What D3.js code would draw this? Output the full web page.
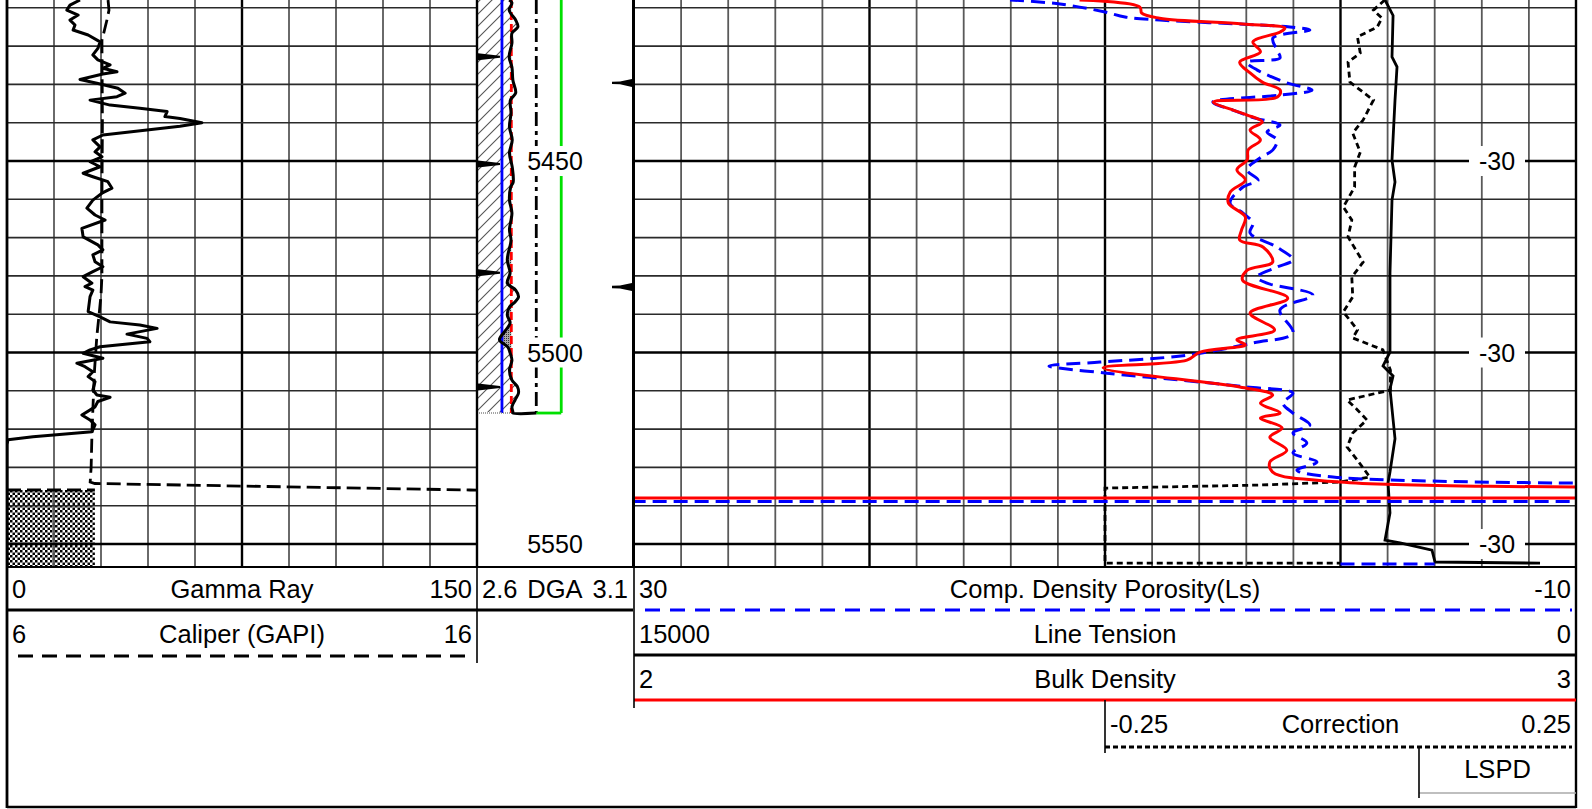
<!DOCTYPE html>
<html>
<head>
<meta charset="utf-8">
<script src="https://cdn.jsdelivr.net/npm/d3@7"></script>
<style>
  body { margin: 0; background: #fff; }
  svg { display: block; }
  text { font-family: "Liberation Sans", Arial, sans-serif; fill: #000; }
</style>
</head>
<body>
<svg id="log"></svg>
<script>
// ---- curve data: [depth (ft), value] ----
const gammaRay = [
  [5407.96,23.3],[5409.3,20.1],[5410.6,19.1],[5411.9,22.7],[5413.2,20.1],[5414.5,21.7],[5415.8,21.1],
  [5417.1,25.9],[5418.9,29.7],[5420.6,29.0],[5422.3,27.4],[5423.6,29.0],[5424.9,32.9],[5425.8,30.6],
  [5426.7,35.1],[5427.3,30.6],[5428.7,23.3],[5429.7,28.7],[5431.0,35.4],[5432.3,37.7],[5433.2,35.1],
  [5434.1,26.5],[5435.4,32.9],[5436.2,42.4],[5437.1,51.1],[5438.4,50.4],[5438.9,55.2],[5440.0,62.2],
  [5440.9,55.2],[5443.2,30.6],[5444.5,27.4],[5446.3,29.7],[5447.6,28.1],[5448.9,30.3],[5450.2,26.5],
  [5451.5,29.7],[5453.2,24.3],[5454.1,27.4],[5455.4,32.2],[5457.1,33.5],[5458.4,30.3],[5460.2,27.4],
  [5462.3,25.5],[5464.1,28.1],[5465.4,31.3],[5467.6,23.9],[5469.8,24.3],[5471.9,29.0],[5473.2,30.6],
  [5474.5,27.4],[5476.3,28.1],[5477.6,30.6],[5478.9,27.4],[5480.2,24.3],[5481.9,27.1],[5482.8,24.9],
  [5483.7,27.4],[5485.4,26.5],[5489.3,25.9],[5490.7,29.7],[5492.0,32.9],[5492.8,42.4],[5493.7,47.9],
  [5495.2,38.3],[5496.3,44.7],[5497.2,45.6],[5498.5,29.7],[5499.3,26.5],[5500.2,24.3],[5501.5,30.6],
  [5502.8,22.3],[5503.7,24.9],[5505.0,27.4],[5506.3,25.9],[5507.6,28.1],[5509.8,27.4],[5511.1,28.7],
  [5511.7,32.9],[5512.8,29.0],[5514.2,28.1],[5516.3,23.9],[5517.6,26.5],[5518.9,28.1],[5520.7,27.1],
  [5522.0,8.3],[5522.8,0.3],[5524.0,0],[5556,0]
];
const caliper = [
  [5407.96,8.15],[5410.6,8.17],[5413.0,8.13],[5418.5,8.02],[5440,8.03],[5460,8.02],[5480,8.02],
  [5485,8.00],[5490,7.96],[5496,7.91],[5505,7.86],[5520,7.81],[5530,7.79],[5533.8,7.77],
  [5534.2,7.87],[5535.9,15.85],[5536.0,16.3]
];
const caliperWrap = [[5535.9,6.0],[5535.9,7.87]];
const bitFill = [[5535.9,7.87],[5556,7.87]];

const dga = [
  [5407.96,2.703],[5408.7,2.712],[5410.6,2.703],[5413.2,2.724],[5415.0,2.731],[5416.6,2.712],
  [5419.2,2.712],[5422.8,2.703],[5425.5,2.712],[5428.9,2.715],[5432.2,2.724],[5434.1,2.707],
  [5437.5,2.709],[5441.1,2.704],[5444.5,2.713],[5447.9,2.704],[5451.6,2.713],[5455.5,2.716],
  [5456.8,2.708],[5460.2,2.704],[5463.6,2.712],[5468.0,2.704],[5470.6,2.709],[5475.8,2.697],
  [5479.2,2.706],[5481.9,2.697],[5483.7,2.724],[5485.5,2.733],[5486.8,2.722],[5488.1,2.704],
  [5490.2,2.697],[5492.3,2.706],[5494.6,2.688],[5496.7,2.672],[5498.6,2.699],[5500.1,2.706],
  [5502.0,2.712],[5504.6,2.704],[5507.2,2.712],[5509.0,2.730],[5510.6,2.733],[5512.4,2.722],
  [5514.2,2.712],[5515.5,2.715]
];
const dgaEndDepth = 5515.8;
const dgaRefValues = [2.68, 2.71, 2.79, 2.87];   // blue, red dashed, dash-dot, green

const bulkDensity = [
  [5407.96,2.473],[5409.8,2.537],[5411.4,2.539],[5412.7,2.558],[5414.2,2.646],[5415.3,2.691],
  [5416.3,2.686],[5418.9,2.657],[5421.5,2.665],[5424.2,2.643],[5427.0,2.654],[5429.4,2.667],
  [5431.5,2.686],[5433.3,2.683],[5434.6,2.615],[5436.7,2.636],[5438.0,2.651],[5439.8,2.667],
  [5441.9,2.654],[5444.5,2.665],[5447.1,2.652],[5449.7,2.651],[5452.3,2.640],[5455.0,2.649],
  [5458.1,2.633],[5461.0,2.631],[5464.6,2.649],[5468.0,2.645],[5470.6,2.643],[5472.5,2.668],
  [5476.4,2.678],[5478.5,2.651],[5481.1,2.646],[5485.8,2.694],[5489.7,2.654],[5494.1,2.680],
  [5496.7,2.640],[5498.0,2.649],[5499.9,2.601],[5502.0,2.587],[5504.0,2.498],[5509.0,2.643],
  [5511.1,2.678],[5513.2,2.665],[5515.8,2.686],[5517.1,2.665],[5519.7,2.688],[5522.1,2.675],
  [5525.5,2.693],[5528.6,2.675],[5531.2,2.678],[5533.8,2.749],[5535.1,3.02]
];
const bulkDensityWrap = [[5538.0,1.99],[5538.0,3.01]];

const densityPorosity = [
  [5407.96,14.03],[5409.0,11.91],[5411.1,10.00],[5412.4,9.15],[5413.2,7.67],[5414.5,3.42],
  [5415.0,2.15],[5415.8,1.30],[5417.9,2.87],[5421.0,2.70],[5423.1,2.57],[5424.2,3.97],
  [5426.2,3.55],[5429.6,2.27],[5431.5,1.21],[5432.8,2.57],[5434.6,5.42],[5436.7,4.57],
  [5438.8,3.63],[5440.6,2.57],[5442.4,3.12],[5444.5,2.70],[5447.1,2.87],[5449.2,3.42],
  [5452.3,3.97],[5455.0,3.50],[5456.8,4.14],[5461.0,4.69],[5463.6,4.14],[5466.2,3.72],
  [5468.8,3.84],[5472.5,2.70],[5475.8,2.02],[5477.7,2.70],[5480.3,3.55],[5481.9,3.12],
  [5485.0,1.17],[5488.9,2.57],[5494.9,2.02],[5497.5,3.72],[5500.7,6.52],[5502.5,10.21],
  [5503.5,12.38],[5505.4,9.92],[5507.2,6.82],[5509.0,3.97],[5510.6,2.02],[5513.2,2.44],
  [5515.8,2.02],[5518.9,1.30],[5521.0,2.02],[5523.6,1.43],[5526.2,2.02],[5528.6,1.00],
  [5530.7,1.85],[5532.5,0.32],[5534.1,-10.1]
];
const densityPorosityWrap = [[5538.9,30.1],[5538.9,-10.1]];
const densityPorosityTail = [[5555.2,0.0],[5555.2,-4.0]];

const lineTension = [
  [5407.96,3041],[5412.0,2913],[5422.8,2930],[5425.4,2850],[5434.1,2882],[5449.7,2930],
  [5455.5,2882],[5460.2,2930],[5479.2,2962],[5499.9,2962],[5503.5,3073],[5506.1,2913],
  [5509.5,2962],[5522.5,2882],[5531.2,2962],[5534.1,2993],[5541.9,2962],[5549.0,3041],
  [5549.7,2802],[5551.6,2293],[5554.7,2245],[5555.0,573]
];

const correction = [
  [5407.96,0.047],[5410.6,0.035],[5412.7,0.044],[5415.0,0.039],[5417.6,0.018],[5421.8,0.021],
  [5424.2,0.008],[5429.4,0.010],[5434.1,0.035],[5439.3,0.024],[5442.7,0.013],[5447.7,0.021],
  [5451.6,0.015],[5456.8,0.015],[5462.0,0.003],[5465.4,0.012],[5469.8,0.008],[5476.4,0.024],
  [5480.3,0.012],[5485.5,0.013],[5489.4,0.003],[5494.1,0.018],[5496.2,0.013],[5499.3,0.045],
  [5504.6,0.053],[5509.8,0.053],[5512.4,0.007],[5515.0,0.018],[5517.6,0.028],[5521.0,0.013],
  [5524.7,0.007],[5528.1,0.018],[5532.5,0.031],[5533.8,0.000],[5534.6,-0.085],[5535.4,-0.25],
  [5555.0,-0.25],[5555.0,0.0]
];

// depth annotations
const gridDepths = d3.range(5410, 5556, 10);
const depthLabels = [5450, 5500, 5550];
const tempLabels = ["-30", "-30", "-30"];
const leftMarkDepths = [5422.8, 5450.8, 5479.2, 5509.0];
const rightMarkDepths = [5429.6, 5482.9];

// header texts
const curveNames = ["Gamma Ray", "Caliper (GAPI)", "DGA", "Comp. Density Porosity(Ls)", "Line Tension", "Bulk Density", "Correction", "LSPD"];
const scaleLeft  = ["0", "6", "2.6", "30", "15000", "2", "-0.25", ""];
const scaleRight = ["150", "16", "3.1", "-10", "0", "3", "0.25", ""];

// ---- set up ----
const svg = d3.select("#log").attr("width", 1592).attr("height", 809);
const plotBottom = 567;

const y = d3.scaleLinear().domain([5407.96, 5556]).range([0, plotBottom]);

const xGR   = d3.scaleLinear().domain([0, 150]).range([7, 477]);
const xCali = d3.scaleLinear().domain([6, 16]).range([7, 477]);
const xDGA  = d3.scaleLinear().domain([2.6, 3.1]).range([477, 633]);
const xDPHI = d3.scaleLinear().domain([30, -10]).range([634, 1576]);
const xTens = d3.scaleLinear().domain([15000, 0]).range([634, 1576]);
const xRHOB = d3.scaleLinear().domain([2, 3]).range([634, 1576]);
const xCorr = d3.scaleLinear().domain([-0.25, 0.25]).range([1105, 1576]);

const defs = svg.append("defs");

// clip rects per track
[["clipL", 7, 470], ["clipM", 477, 156], ["clipR", 634, 942]].forEach(([id, x, w]) => {
  defs.append("clipPath").attr("id", id)
    .append("rect").attr("x", x).attr("y", 0).attr("width", w).attr("height", plotBottom);
});

// hatch for the DGA fill
const hatch = defs.append("pattern").attr("id", "hatch")
  .attr("patternUnits", "userSpaceOnUse").attr("width", 12).attr("height", 12);
hatch.append("path").attr("d", "M0,12 L12,0 M-3,3 L3,-3 M9,15 L15,9")
  .attr("stroke", "#555").attr("stroke-width", 1.1);

// grey stipple where DGA < 2.71
const stip = defs.append("pattern").attr("id", "stipple")
  .attr("patternUnits", "userSpaceOnUse").attr("width", 2).attr("height", 2);
stip.append("rect").attr("width", 2).attr("height", 2).attr("fill", "#aaa");
stip.append("rect").attr("width", 1).attr("height", 1).attr("fill", "#333");

// checkered fill in gamma track
const chk = defs.append("pattern").attr("id", "checker")
  .attr("patternUnits", "userSpaceOnUse").attr("width", 5).attr("height", 5);
chk.append("rect").attr("width", 5).attr("height", 5).attr("fill", "#fff");
chk.append("rect").attr("width", 2.5).attr("height", 2.5).attr("fill", "#000");
chk.append("rect").attr("x", 2.5).attr("y", 2.5).attr("width", 2.5).attr("height", 2.5).attr("fill", "#000");

// ---- grids ----
function drawGrid(x0, x1, nDiv) {
  const g = svg.append("g");
  const gx = d3.scaleLinear().domain([0, nDiv]).range([x0, x1]);
  g.selectAll("line.v").data(d3.range(1, nDiv)).join("line")
    .attr("class", "v")
    .attr("x1", gx).attr("x2", gx)
    .attr("y1", 0).attr("y2", plotBottom)
    .attr("stroke", i => i % 5 === 0 ? "#000" : "#5a5a5a")
    .attr("stroke-width", i => i % 5 === 0 ? 2.4 : 1.8);
  g.selectAll("line.h").data(gridDepths).join("line")
    .attr("class", "h")
    .attr("x1", x0).attr("x2", x1)
    .attr("y1", d => y(d)).attr("y2", d => y(d))
    .attr("stroke", d => d % 50 === 0 ? "#000" : "#2a2a2a")
    .attr("stroke-width", d => d % 50 === 0 ? 2.4 : 1.6);
}

// checkered block sits below the grid lines
const areaLeft = d3.area().y(d => y(d[0])).x0(xCali(6)).x1(d => xCali(d[1]));
svg.append("path").datum(bitFill).attr("d", areaLeft).attr("fill", "url(#checker)");

drawGrid(7, 477, 10);
drawGrid(634, 1576, 20);

// temperature labels on the right track
const tl = svg.append("g").selectAll("g").data(depthLabels).join("g");
tl.append("rect")
  .attr("x", 1469).attr("y", d => y(d) - 15).attr("width", 56).attr("height", 30)
  .attr("fill", "#fff");
tl.append("text")
  .attr("x", 1497).attr("y", d => y(d)).attr("dy", "0.36em")
  .attr("text-anchor", "middle").attr("font-size", "25px")
  .text((d, i) => tempLabels[i]);

// ---- left track curves ----
const lineOf = (xs, curve) => d3.line().x(d => xs(d[1])).y(d => y(d[0])).curve(curve || d3.curveLinear);

const gL = svg.append("g").attr("clip-path", "url(#clipL)");
[caliper, caliperWrap].forEach(data => {
  gL.append("path").datum(data).attr("d", lineOf(xCali))
    .attr("fill", "none").attr("stroke", "#000").attr("stroke-width", 2.8).attr("stroke-dasharray", "14,6");
});
gL.append("path").datum(gammaRay).attr("d", lineOf(xGR))
  .attr("fill", "none").attr("stroke", "#000").attr("stroke-width", 3).attr("stroke-linejoin", "round");

// ---- middle (depth / DGA) track ----
const gM = svg.append("g").attr("clip-path", "url(#clipM)");
const dgaArea = d3.area().y(d => y(d[0])).x0(xDGA(2.6)).x1(d => xDGA(d[1])).curve(d3.curveCatmullRom);
gM.append("path").datum(dga).attr("d", dgaArea).attr("fill", "url(#hatch)");
const lowArea = d3.area().y(d => y(d[0]))
  .x0(d => xDGA(Math.min(d[1], dgaRefValues[1]))).x1(xDGA(dgaRefValues[1])).curve(d3.curveCatmullRom);
gM.append("path").datum(dga).attr("d", lowArea).attr("fill", "url(#stipple)");

const refStyles = [
  { stroke: "#0000ff", dash: null },
  { stroke: "#ff0000", dash: "8,4" },
  { stroke: "#000", dash: "14,5,4,5" },
  { stroke: "#00e000", dash: null }
];
gM.selectAll("line.ref").data(dgaRefValues).join("line")
  .attr("class", "ref")
  .attr("x1", d => xDGA(d)).attr("x2", d => xDGA(d))
  .attr("y1", 0).attr("y2", y(dgaEndDepth))
  .attr("stroke", (d, i) => refStyles[i].stroke)
  .attr("stroke-width", 2.8)
  .attr("stroke-dasharray", (d, i) => refStyles[i].dash);

gM.append("path").datum([[dgaEndDepth, dgaRefValues[3]], [dgaEndDepth, dgaRefValues[2]]])
  .attr("d", lineOf(xDGA)).attr("stroke", "#00e000").attr("stroke-width", 2.8).attr("fill", "none");
gM.append("path").datum([[dgaEndDepth, 2.6], [dgaEndDepth, dga[dga.length - 1][1]]])
  .attr("d", lineOf(xDGA)).attr("stroke", "#888").attr("stroke-width", 1.5)
  .attr("stroke-dasharray", "1,1").attr("fill", "none");
gM.append("path").datum(dga.concat([[dgaEndDepth, dga[dga.length - 1][1]], [dgaEndDepth, dgaRefValues[2]]]))
  .attr("d", lineOf(xDGA, d3.curveCatmullRom))
  .attr("fill", "none").attr("stroke", "#000").attr("stroke-width", 3);

// wedge marks on the depth track
gM.selectAll("path.lm").data(leftMarkDepths).join("path")
  .attr("class", "lm")
  .attr("d", d => { const yy = y(d); return `M478,${yy - 3.5} L500,${yy - 1} L500,${yy + 1} L478,${yy + 3.5} Z`; })
  .attr("fill", "#000");
gM.selectAll("path.rm").data(rightMarkDepths).join("path")
  .attr("class", "rm")
  .attr("d", d => { const yy = y(d); return `M612,${yy - 1.2} L620,${yy - 1.4} L632,${yy - 4} L632,${yy + 4} L620,${yy + 1.4} L612,${yy + 1.2} Z`; })
  .attr("fill", "#000");

// depth labels
const dl = svg.append("g").selectAll("g").data(depthLabels).join("g");
dl.append("rect")
  .attr("x", 523).attr("y", d => y(d) - 15).attr("width", 64).attr("height", 30)
  .attr("fill", "#fff");
dl.append("text")
  .attr("x", 555).attr("y", d => y(d)).attr("dy", "0.36em")
  .attr("text-anchor", "middle").attr("font-size", "25px")
  .text(d => d);

// ---- right track curves ----
const gR = svg.append("g").attr("clip-path", "url(#clipR)");
const smooth = d3.curveCatmullRom.alpha(0.5);
gR.append("path").datum(correction).attr("d", lineOf(xCorr))
  .attr("fill", "none").attr("stroke", "#000").attr("stroke-width", 2.8).attr("stroke-dasharray", "6,4");
gR.append("path").datum(lineTension).attr("d", lineOf(xTens))
  .attr("fill", "none").attr("stroke", "#000").attr("stroke-width", 2.8);
[densityPorosity, densityPorosityWrap, densityPorosityTail].forEach((data, i) => {
  gR.append("path").datum(data).attr("d", lineOf(xDPHI, i === 0 ? smooth : d3.curveLinear))
    .attr("fill", "none").attr("stroke", "#0000ff").attr("stroke-width", 3).attr("stroke-dasharray", "14,7");
});
[bulkDensity, bulkDensityWrap].forEach((data, i) => {
  gR.append("path").datum(data).attr("d", lineOf(xRHOB, i === 0 ? smooth : d3.curveLinear))
    .attr("fill", "none").attr("stroke", "#ff0000").attr("stroke-width", 3);
});

// ---- track borders ----
const frame = svg.append("g").attr("stroke", "#000").attr("fill", "none");
frame.append("line").attr("x1", 7).attr("x2", 7).attr("y1", 0).attr("y2", 808).attr("stroke-width", 2.8);
frame.append("line").attr("x1", 477).attr("x2", 477).attr("y1", 0).attr("y2", plotBottom).attr("stroke-width", 2.4);
frame.append("line").attr("x1", 633.5).attr("x2", 633.5).attr("y1", 0).attr("y2", plotBottom).attr("stroke-width", 3);
frame.append("line").attr("x1", 1576).attr("x2", 1576).attr("y1", 0).attr("y2", 808).attr("stroke-width", 2.4);
frame.append("line").attr("x1", 7).attr("x2", 1576).attr("y1", plotBottom).attr("y2", plotBottom).attr("stroke-width", 1.8);
frame.append("line").attr("x1", 7).attr("x2", 1576).attr("y1", 807).attr("y2", 807).attr("stroke-width", 2.4);

// ---- header ----
const headerLayout = [
  { x0: 7,    x1: 477,  base: 598, lineY: 610, stroke: "#000",    width: 3,   dash: null },
  { x0: 7,    x1: 477,  base: 643, lineY: 656, stroke: "#000",    width: 2.8, dash: "15,9", dashStart: 18 },
  { x0: 477,  x1: 633,  base: 598, lineY: 610, stroke: "#000",    width: 3,   dash: null },
  { x0: 634,  x1: 1576, base: 598, lineY: 610, stroke: "#0000ff", width: 3,   dash: "15,10", dashStart: 645 },
  { x0: 634,  x1: 1576, base: 643, lineY: 655, stroke: "#000",    width: 2.8, dash: null },
  { x0: 634,  x1: 1576, base: 688, lineY: 700, stroke: "#ff0000", width: 3.2, dash: null },
  { x0: 1105, x1: 1576, base: 733, lineY: 747, stroke: "#000",    width: 2.8, dash: "5,3" },
  { x0: 1419, x1: 1576, base: 778, lineY: 793, stroke: "#aaa",    width: 1.5, dash: null }
];
const head = svg.append("g").attr("font-size", "25.5px");
headerLayout.forEach((h, i) => {
  head.append("text").attr("x", h.x0 + 5).attr("y", h.base).text(scaleLeft[i]);
  head.append("text").attr("x", (h.x0 + h.x1) / 2).attr("y", h.base).attr("text-anchor", "middle").text(curveNames[i]);
  head.append("text").attr("x", h.x1 - 5).attr("y", h.base).attr("text-anchor", "end").text(scaleRight[i]);
  head.append("line")
    .attr("x1", h.dashStart || h.x0).attr("x2", h.dash ? h.x1 - 4 : h.x1)
    .attr("y1", h.lineY).attr("y2", h.lineY)
    .attr("stroke", h.stroke).attr("stroke-width", h.width)
    .attr("stroke-dasharray", h.dash);
});

// header dividers
const dividers = [
  [477, plotBottom, 663], [634, plotBottom, 708], [1105, 700, 753], [1419, 747, 798]
];
svg.append("g").selectAll("line").data(dividers).join("line")
  .attr("x1", d => d[0]).attr("x2", d => d[0])
  .attr("y1", d => d[1]).attr("y2", d => d[2])
  .attr("stroke", "#000").attr("stroke-width", 1.6);
</script>
</body>
</html>
